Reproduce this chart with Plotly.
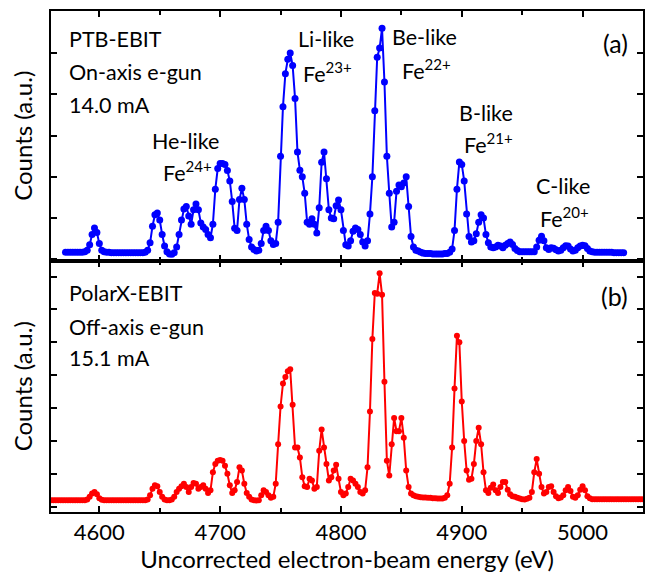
import plotly.graph_objects as go

# ---------------- data ----------------
blue_start, blue_step = 4572, 2
blue_counts = [
    0.17, 0.17, 0.17, 0.17, 0.17, 0.17, 0.17, 0.17, 0.18, 0.22,   # 4572-4590
    0.35, 0.60, 0.76, 0.65, 0.38, 0.22, 0.18, 0.17, 0.17, 0.16,   # 4592-4610
    0.16, 0.16, 0.16, 0.16, 0.16, 0.16, 0.16, 0.16, 0.16, 0.16,   # 4612-4630
    0.16, 0.16, 0.16, 0.17, 0.22, 0.40, 0.80, 1.08, 1.12, 0.95,   # 4632-4650
    0.60, 0.32, 0.18, 0.13, 0.12, 0.16, 0.30, 0.60, 0.95, 1.22,   # 4652-4670
    1.28, 1.05, 0.85, 1.20, 1.34, 1.20, 0.88, 0.78, 0.72, 0.60,   # 4672-4690
    0.52, 0.85, 1.70, 2.20, 2.32, 2.32, 2.30, 2.15, 1.90, 1.40,   # 4692-4710
    0.75, 0.70, 1.45, 1.72, 1.45, 0.85, 0.48, 0.30, 0.24, 0.20,   # 4712-4730
    0.22, 0.38, 0.70, 0.80, 0.70, 0.45, 0.36, 0.38, 0.90, 2.50,   # 4732-4750
    3.70, 4.50, 4.85, 5.00, 4.70, 3.90, 2.60, 2.16, 2.00, 1.60,   # 4752-4770
    0.90, 0.85, 0.98, 0.85, 0.64, 1.25, 2.35, 2.60, 1.95, 1.20,   # 4772-4790
    1.00, 0.98, 1.30, 1.44, 1.20, 0.70, 0.35, 0.32, 0.45, 0.68,   # 4792-4810
    0.76, 0.72, 0.60, 0.42, 0.32, 0.45, 1.10, 2.00, 3.60, 4.90,   # 4812-4830
    5.12, 5.60, 4.30, 2.50, 1.60, 0.78, 0.90, 1.65, 1.80, 1.76,   # 4832-4850
    1.85, 2.00, 1.28, 0.55, 0.30, 0.22, 0.20, 0.17, 0.15, 0.14,   # 4852-4870
    0.14, 0.14, 0.13, 0.13, 0.13, 0.13, 0.13, 0.14, 0.14, 0.17,   # 4872-4890
    0.25, 0.70, 1.70, 2.36, 2.30, 1.90, 1.10, 0.55, 0.42, 0.45,   # 4892-4910
    0.62, 0.90, 1.08, 1.00, 0.60, 0.40, 0.30, 0.28, 0.30, 0.34,   # 4912-4930
    0.32, 0.28, 0.34, 0.38, 0.42, 0.36, 0.26, 0.21, 0.18, 0.18,   # 4932-4950
    0.18, 0.18, 0.18, 0.18, 0.18, 0.30, 0.46, 0.56, 0.45, 0.28,   # 4952-4970
    0.24, 0.28, 0.27, 0.23, 0.20, 0.22, 0.28, 0.33, 0.32, 0.25,   # 4972-4990
    0.20, 0.22, 0.28, 0.32, 0.34, 0.33, 0.26, 0.20, 0.18, 0.17,   # 4992-5010
    0.17, 0.17, 0.17, 0.17, 0.17, 0.17, 0.17, 0.16, 0.16, 0.16,   # 5012-5030
    0.16, 0.16,                                                   # 5032-5034
]

red_start, red_step = 4560, 2
red_counts = [
    0.20, 0.20, 0.20, 0.20, 0.20, 0.20, 0.20, 0.20, 0.20, 0.20,   # 4560-4578
    0.20, 0.20, 0.20, 0.20, 0.20, 0.22, 0.30, 0.40, 0.45, 0.38,   # 4580-4598
    0.26, 0.21, 0.20, 0.20, 0.20, 0.20, 0.20, 0.20, 0.20, 0.20,   # 4600-4618
    0.20, 0.20, 0.20, 0.20, 0.20, 0.20, 0.20, 0.20, 0.20, 0.20,   # 4620-4638
    0.22, 0.35, 0.55, 0.65, 0.62, 0.45, 0.30, 0.22, 0.20, 0.20,   # 4640-4658
    0.22, 0.30, 0.45, 0.55, 0.62, 0.70, 0.60, 0.45, 0.60, 0.72,   # 4660-4678
    0.70, 0.55, 0.60, 0.65, 0.55, 0.42, 0.50, 1.05, 1.30, 1.40,   # 4680-4698
    1.42, 1.40, 1.25, 1.00, 0.65, 0.42, 0.50, 0.75, 1.20, 1.10,   # 4700-4718
    0.70, 0.42, 0.30, 0.22, 0.20, 0.19, 0.20, 0.35, 0.50, 0.45,   # 4720-4738
    0.35, 0.27, 0.30, 0.70, 1.90, 3.05, 3.75, 3.95, 4.12, 4.18,   # 4740-4758
    3.10, 1.80, 1.80, 1.50, 0.90, 0.62, 0.60, 0.85, 0.80, 0.55,   # 4760-4778
    0.60, 1.70, 2.35, 1.80, 1.30, 0.80, 0.90, 1.10, 1.28, 0.85,   # 4780-4798
    0.45, 0.35, 0.40, 0.60, 0.85, 0.80, 0.70, 0.60, 0.45, 0.40,   # 4800-4818
    0.50, 1.20, 2.90, 5.10, 6.50, 6.48, 7.10, 6.45, 3.80, 1.40,   # 4820-4838
    0.95, 1.90, 2.70, 2.30, 2.30, 2.70, 2.10, 1.10, 0.60, 0.40,   # 4840-4858
    0.35, 0.32, 0.30, 0.29, 0.28, 0.28, 0.27, 0.27, 0.26, 0.26,   # 4860-4878
    0.25, 0.25, 0.25, 0.27, 0.35, 0.70, 1.80, 3.60, 5.20, 5.00,   # 4880-4898
    3.20, 2.00, 1.10, 0.82, 0.85, 1.30, 2.00, 2.40, 1.90, 1.05,   # 4900-4918
    0.50, 0.42, 0.58, 0.68, 0.50, 0.42, 0.60, 0.75, 0.75, 0.52,   # 4920-4938
    0.38, 0.32, 0.30, 0.27, 0.25, 0.23, 0.22, 0.24, 0.27, 0.45,   # 4940-4958
    1.05, 1.45, 1.00, 0.60, 0.40, 0.45, 0.60, 0.62, 0.45, 0.32,   # 4960-4978
    0.26, 0.28, 0.35, 0.50, 0.60, 0.48, 0.30, 0.27, 0.35, 0.52,   # 4980-4998
    0.62, 0.50, 0.32, 0.26, 0.23, 0.23, 0.23, 0.23, 0.23, 0.23,   # 5000-5018
    0.23, 0.23, 0.23, 0.23, 0.23, 0.23, 0.23, 0.23, 0.23, 0.23,   # 5020-5038
    0.23, 0.23, 0.23, 0.23, 0.23, 0.23,                           # 5040-5050
]

blue_energy = [blue_start + blue_step * i for i in range(len(blue_counts))]
red_energy = [red_start + red_step * i for i in range(len(red_counts))]

x_tick_vals = [4600, 4700, 4800, 4900, 5000]
x_tick_text = ["4600", "4700", "4800", "4900", "5000"]

top_labels = ["PTB-EBIT", "On-axis e-gun", "14.0 mA"]
bottom_labels = ["PolarX-EBIT", "Off-axis e-gun", "15.1 mA"]
ion_labels = [
    ("He-like", "Fe<sup>24+</sup>"),
    ("Li-like", "Fe<sup>23+</sup>"),
    ("Be-like", "Fe<sup>22+</sup>"),
    ("B-like", "Fe<sup>21+</sup>"),
    ("C-like", "Fe<sup>20+</sup>"),
]

# ---------------- layout helpers ----------------
W, H = 654, 573
L, R, T, B = 51, 645, 9, 517
DIV = 262
FONT = "Lato"
FS = 20        # axis titles
FS_ANN = 21.5  # in-plot labels
FS_TICK = 22


def px(x):
    return (x - L) / (R - L)


def py(y):
    return (B - y) / (B - T)


fig = go.Figure()
fig.add_trace(go.Scatter(
    x=blue_energy, y=blue_counts, mode="lines+markers",
    line=dict(color="#0000ff", width=2),
    marker=dict(color="#0000ff", size=7),
    xaxis="x2", yaxis="y2", showlegend=False,
))
fig.add_trace(go.Scatter(
    x=red_energy, y=red_counts, mode="lines+markers",
    line=dict(color="#ff0000", width=2),
    marker=dict(color="#ff0000", size=6),
    xaxis="x", yaxis="y", showlegend=False,
))

split = py(DIV)
axis_common = dict(
    showline=True, linecolor="black", linewidth=2, mirror="allticks",
    ticks="inside", ticklen=6, tickwidth=1.5, tickcolor="black",
    showgrid=False, zeroline=False,
)
minor_ticks = dict(tickvals=[4650, 4750, 4850, 4950, 5050], ticklen=4,
                   ticks="inside", tickcolor="black", tickwidth=1.5)

fig.update_layout(
    width=W, height=H,
    margin=dict(l=L, r=W - R, t=T, b=H - B),
    paper_bgcolor="white", plot_bgcolor="white",
    font=dict(family=FONT, size=FS, color="black"),
    xaxis=dict(
        domain=[0, 1], anchor="y", range=[4560, 5050],
        tickvals=x_tick_vals, ticktext=x_tick_text,
        minor=minor_ticks,
        title=dict(text="Uncorrected electron-beam energy (eV)", standoff=2),
        tickfont=dict(size=FS_TICK),
        **axis_common,
    ),
    xaxis2=dict(
        domain=[0, 1], anchor="y2", range=[4560, 5050], matches="x",
        tickvals=x_tick_vals, showticklabels=False,
        minor=minor_ticks,
        **axis_common,
    ),
    yaxis=dict(
        domain=[0, split], anchor="x", range=[-0.16, 7.49],
        tick0=0, dtick=1, showticklabels=False,
        title=dict(text="Counts (a.u.)", standoff=10),
        **axis_common,
    ),
    yaxis2=dict(
        domain=[split, 1], anchor="x2", range=[-0.03, 6.02],
        tick0=0, dtick=1, showticklabels=False,
        title=dict(text="Counts (a.u.)", standoff=10),
        **axis_common,
    ),
)

ann = []


def add(text, x, y, anchor="left", size=FS_ANN):
    ann.append(dict(text=text, x=px(x), y=py(y), xref="paper", yref="paper",
                    xanchor=anchor, yanchor="middle", showarrow=False,
                    font=dict(family=FONT, size=size, color="black")))


for txt, yy in zip(top_labels, [37, 71, 104]):
    add(txt, 67, yy)
for txt, yy in zip(bottom_labels, [295, 329, 361]):
    add(txt, 67, yy)

ion_pos = [
    ((150, 141), (161, 172)),
    ((297, 37), (302, 71)),
    ((391, 35), (401, 68)),
    ((458, 112), (463, 143)),
    ((536, 186), (540, 218)),
]
for (name, fe), ((x1, y1), (x2, y2)) in zip(ion_labels, ion_pos):
    add(name, x1, y1)
    add(fe, x2, y2)

add("(a)", 632, 41, anchor="right", size=25)
add("(b)", 632, 298, anchor="right", size=25)

fig.update_layout(annotations=ann)
fig.write_html("out.html")
